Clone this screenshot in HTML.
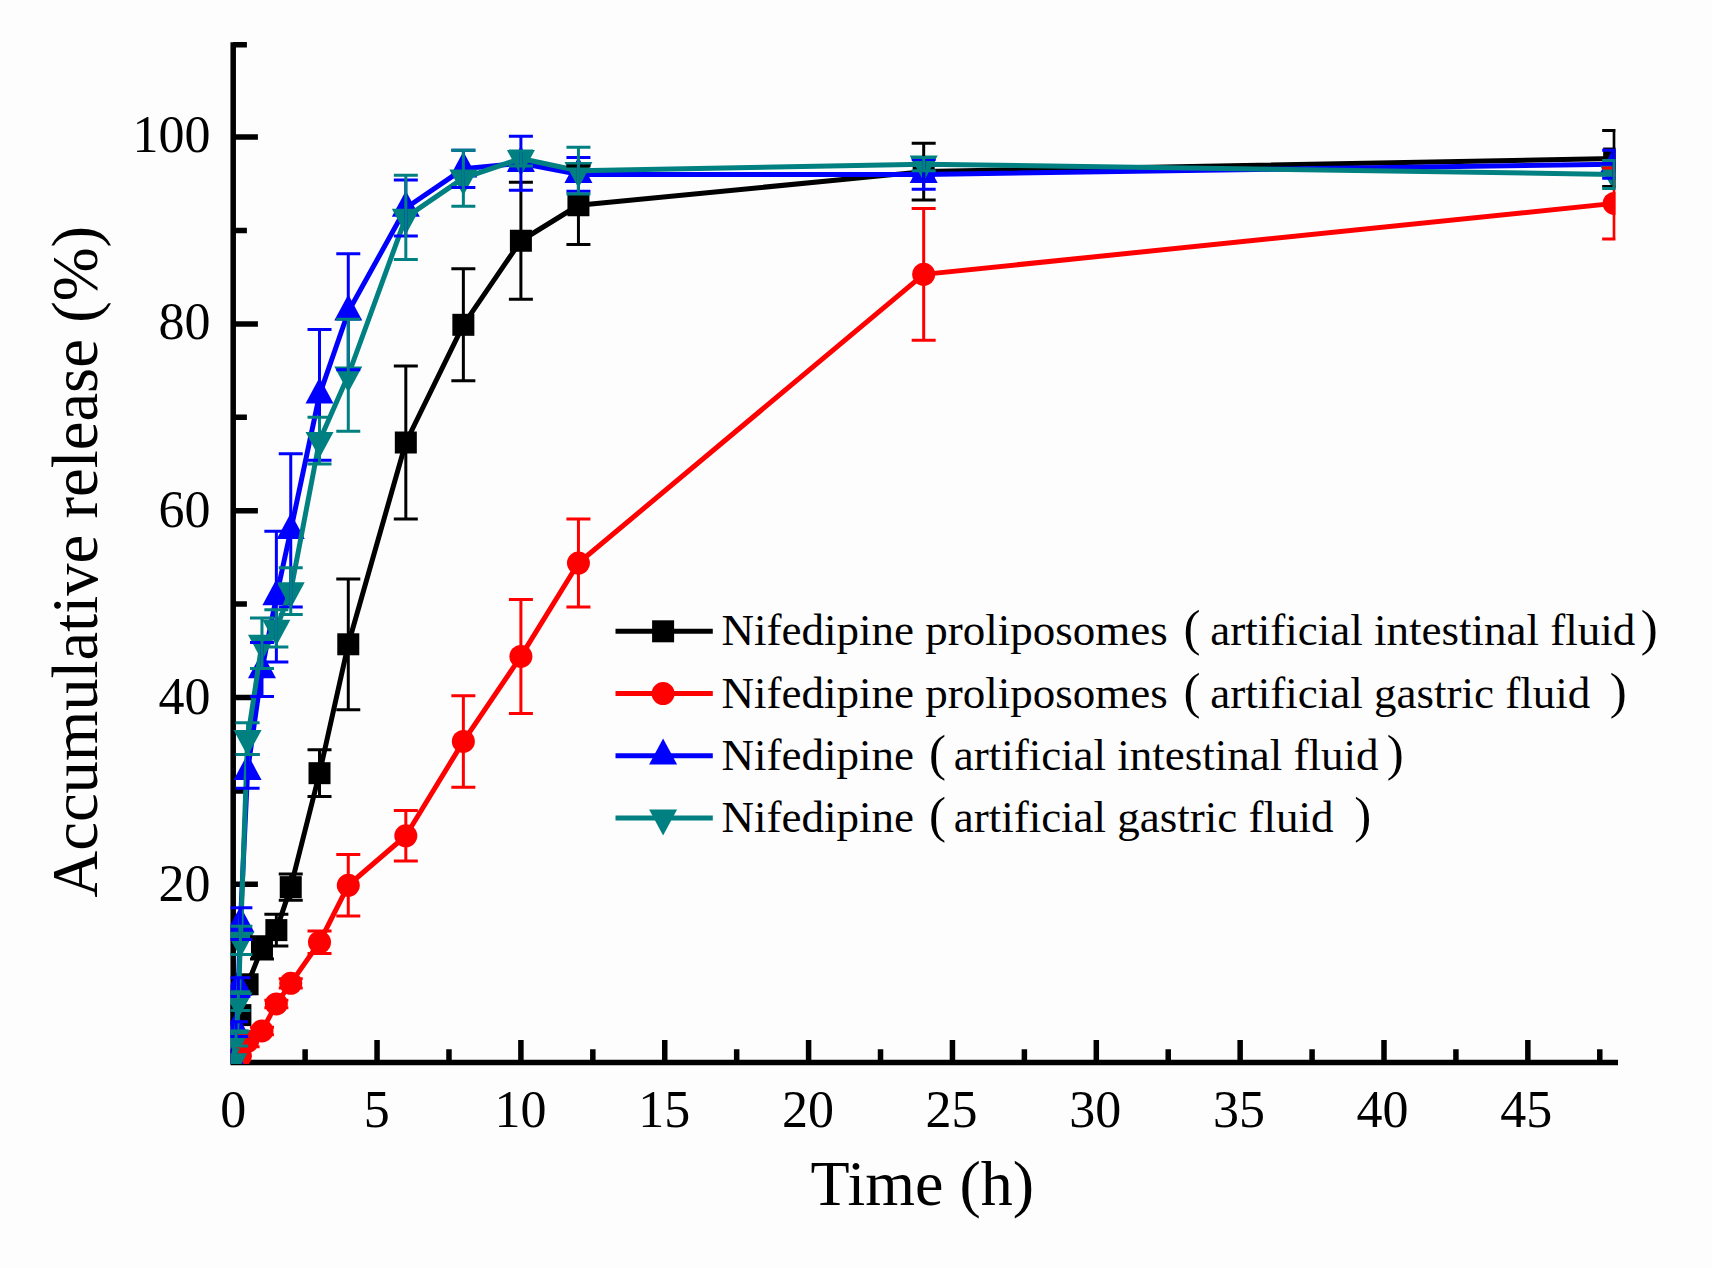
<!DOCTYPE html>
<html><head><meta charset="utf-8"><title>Accumulative release</title>
<style>
html,body{margin:0;padding:0;background:#fff;}
body{width:1712px;height:1268px;overflow:hidden;}
svg{display:block;}
text{font-family:"Liberation Serif","Times New Roman",serif;fill:#000;}
</style></head><body>
<svg width="1712" height="1268" viewBox="0 0 1712 1268">
<defs>
<clipPath id="pc"><rect x="230.5" y="30" width="1385" height="1034"/></clipPath>
</defs>
<rect width="1712" height="1268" fill="#fefdfe"/>

<path d="M233.2 42.2V1065.15M230.45 1062.4H1618M233.2 977.75H246.9M233.2 884.34H257.9M233.2 790.93H246.9M233.2 697.52H257.9M233.2 604.11H246.9M233.2 510.7H257.9M233.2 417.29H246.9M233.2 323.88H257.9M233.2 230.47H246.9M233.2 137.06H257.9M233.2 44.7H246.9M305.12 1049.3V1062.4M377.05 1040V1062.4M448.98 1049.3V1062.4M520.9 1040V1062.4M592.83 1049.3V1062.4M664.75 1040V1062.4M736.67 1049.3V1062.4M808.6 1040V1062.4M880.53 1049.3V1062.4M952.45 1040V1062.4M1024.38 1049.3V1062.4M1096.3 1040V1062.4M1168.22 1049.3V1062.4M1240.15 1040V1062.4M1312.08 1049.3V1062.4M1384 1040V1062.4M1455.92 1049.3V1062.4M1527.85 1040V1062.4M1599.78 1049.3V1062.4" stroke="#000" stroke-width="5.5" fill="none"/>
<text x="210.6" y="900.86" text-anchor="end" font-size="52">20</text>
<text x="210.6" y="713.68" text-anchor="end" font-size="52">40</text>
<text x="210.6" y="526.5" text-anchor="end" font-size="52">60</text>
<text x="210.6" y="339.32" text-anchor="end" font-size="52">80</text>
<text x="210.6" y="152.14" text-anchor="end" font-size="52">100</text>
<text x="233.2" y="1126.5" text-anchor="middle" font-size="52">0</text>
<text x="376.87" y="1126.5" text-anchor="middle" font-size="52">5</text>
<text x="520.55" y="1126.5" text-anchor="middle" font-size="52">10</text>
<text x="664.23" y="1126.5" text-anchor="middle" font-size="52">15</text>
<text x="807.9" y="1126.5" text-anchor="middle" font-size="52">20</text>
<text x="951.58" y="1126.5" text-anchor="middle" font-size="52">25</text>
<text x="1095.25" y="1126.5" text-anchor="middle" font-size="52">30</text>
<text x="1238.92" y="1126.5" text-anchor="middle" font-size="52">35</text>
<text x="1382.6" y="1126.5" text-anchor="middle" font-size="52">40</text>
<text x="1526.28" y="1126.5" text-anchor="middle" font-size="52">45</text>
<text x="922.3" y="1205.3" text-anchor="middle" font-size="64">Time (h)</text>
<text transform="translate(96.8 561.7) rotate(-90)" x="0" y="0" text-anchor="middle" font-size="64.7">Accumulative release (%)</text>
<g clip-path="url(#pc)">
<g>
<polyline points="233.2,1059.95 240.39,1015.11 247.58,984.29 261.97,947.86 276.36,930.11 290.74,887.14 319.51,773.18 348.28,644.28 405.82,442.51 463.36,324.81 520.9,240.75 578.44,205.25 923.68,171.62 1614.16,158.54" stroke="#000000" stroke-width="5" fill="none" stroke-linejoin="round"/>
<rect x="222.2" y="1048.95" width="22" height="22" fill="#000000"/>
<rect x="229.39" y="1004.11" width="22" height="22" fill="#000000"/>
<rect x="236.58" y="973.29" width="22" height="22" fill="#000000"/>
<rect x="250.97" y="936.86" width="22" height="22" fill="#000000"/>
<rect x="265.36" y="919.11" width="22" height="22" fill="#000000"/>
<rect x="279.74" y="876.14" width="22" height="22" fill="#000000"/>
<rect x="308.51" y="762.18" width="22" height="22" fill="#000000"/>
<rect x="337.28" y="633.28" width="22" height="22" fill="#000000"/>
<rect x="394.82" y="431.51" width="22" height="22" fill="#000000"/>
<rect x="452.36" y="313.81" width="22" height="22" fill="#000000"/>
<rect x="509.9" y="229.75" width="22" height="22" fill="#000000"/>
<rect x="567.44" y="194.25" width="22" height="22" fill="#000000"/>
<rect x="912.68" y="160.62" width="22" height="22" fill="#000000"/>
<rect x="1603.16" y="147.54" width="22" height="22" fill="#000000"/>
</g>
<g>
<polyline points="233.2,1065.56 240.39,1056.21 247.58,1041.27 261.97,1030.99 276.36,1003.9 290.74,983.35 319.51,942.25 348.28,885.27 405.82,835.77 463.36,741.42 520.9,656.42 578.44,563.01 923.68,274.37 1614.16,203.38" stroke="#ff0000" stroke-width="5" fill="none" stroke-linejoin="round"/>
<circle cx="233.2" cy="1065.56" r="11.5" fill="#ff0000"/>
<circle cx="240.39" cy="1056.21" r="11.5" fill="#ff0000"/>
<circle cx="247.58" cy="1041.27" r="11.5" fill="#ff0000"/>
<circle cx="261.97" cy="1030.99" r="11.5" fill="#ff0000"/>
<circle cx="276.36" cy="1003.9" r="11.5" fill="#ff0000"/>
<circle cx="290.74" cy="983.35" r="11.5" fill="#ff0000"/>
<circle cx="319.51" cy="942.25" r="11.5" fill="#ff0000"/>
<circle cx="348.28" cy="885.27" r="11.5" fill="#ff0000"/>
<circle cx="405.82" cy="835.77" r="11.5" fill="#ff0000"/>
<circle cx="463.36" cy="741.42" r="11.5" fill="#ff0000"/>
<circle cx="520.9" cy="656.42" r="11.5" fill="#ff0000"/>
<circle cx="578.44" cy="563.01" r="11.5" fill="#ff0000"/>
<circle cx="923.68" cy="274.37" r="11.5" fill="#ff0000"/>
<circle cx="1614.16" cy="203.38" r="11.5" fill="#ff0000"/>
</g>
<g>
<polyline points="233.2,1061.82 236.08,1029.13 238.38,987.09 240.39,923.57 247.58,771.31 261.97,669.5 276.36,596.64 290.74,530.32 319.51,394.87 348.28,311.74 405.82,208.05 463.36,168.82 520.9,163.21 578.44,174.42 923.68,174.42 1614.16,164.15" stroke="#0000ff" stroke-width="5" fill="none" stroke-linejoin="round"/>
<polygon points="233.2,1044.49 247.2,1070.49 219.2,1070.49" fill="#0000ff"/>
<polygon points="236.08,1011.79 250.08,1037.79 222.08,1037.79" fill="#0000ff"/>
<polygon points="238.38,969.76 252.38,995.76 224.38,995.76" fill="#0000ff"/>
<polygon points="240.39,906.24 254.39,932.24 226.39,932.24" fill="#0000ff"/>
<polygon points="247.58,753.98 261.58,779.98 233.58,779.98" fill="#0000ff"/>
<polygon points="261.97,652.16 275.97,678.16 247.97,678.16" fill="#0000ff"/>
<polygon points="276.36,579.3 290.36,605.3 262.36,605.3" fill="#0000ff"/>
<polygon points="290.74,512.98 304.74,538.98 276.74,538.98" fill="#0000ff"/>
<polygon points="319.51,377.54 333.51,403.54 305.51,403.54" fill="#0000ff"/>
<polygon points="348.28,294.4 362.28,320.4 334.28,320.4" fill="#0000ff"/>
<polygon points="405.82,190.72 419.82,216.72 391.82,216.72" fill="#0000ff"/>
<polygon points="463.36,151.49 477.36,177.49 449.36,177.49" fill="#0000ff"/>
<polygon points="520.9,145.88 534.9,171.88 506.9,171.88" fill="#0000ff"/>
<polygon points="578.44,157.09 592.44,183.09 564.44,183.09" fill="#0000ff"/>
<polygon points="923.68,157.09 937.68,183.09 909.68,183.09" fill="#0000ff"/>
<polygon points="1614.16,146.82 1628.16,172.82 1600.16,172.82" fill="#0000ff"/>
</g>
<g>
<polyline points="233.2,1061.82 236.08,1038.47 238.38,1001.1 240.39,940.39 247.58,738.62 261.97,643.34 276.36,628.4 290.74,591.03 319.51,440.64 348.28,375.26 405.82,217.39 463.36,178.16 520.9,158.54 578.44,170.69 923.68,164.15 1614.16,174.42" stroke="#008080" stroke-width="5" fill="none" stroke-linejoin="round"/>
<polygon points="219.2,1053.15 247.2,1053.15 233.2,1079.15" fill="#008080"/>
<polygon points="222.08,1029.8 250.08,1029.8 236.08,1055.8" fill="#008080"/>
<polygon points="224.38,992.44 252.38,992.44 238.38,1018.44" fill="#008080"/>
<polygon points="226.39,931.72 254.39,931.72 240.39,957.72" fill="#008080"/>
<polygon points="233.58,729.95 261.58,729.95 247.58,755.95" fill="#008080"/>
<polygon points="247.97,634.68 275.97,634.68 261.97,660.68" fill="#008080"/>
<polygon points="262.36,619.73 290.36,619.73 276.36,645.73" fill="#008080"/>
<polygon points="276.74,582.37 304.74,582.37 290.74,608.37" fill="#008080"/>
<polygon points="305.51,431.98 333.51,431.98 319.51,457.98" fill="#008080"/>
<polygon points="334.28,366.59 362.28,366.59 348.28,392.59" fill="#008080"/>
<polygon points="391.82,208.73 419.82,208.73 405.82,234.73" fill="#008080"/>
<polygon points="449.36,169.49 477.36,169.49 463.36,195.49" fill="#008080"/>
<polygon points="506.9,149.88 534.9,149.88 520.9,175.88" fill="#008080"/>
<polygon points="564.44,162.02 592.44,162.02 578.44,188.02" fill="#008080"/>
<polygon points="909.68,155.48 937.68,155.48 923.68,181.48" fill="#008080"/>
<polygon points="1600.16,165.76 1628.16,165.76 1614.16,191.76" fill="#008080"/>
</g>
<path d="M261.97 936.65V959.07M249.97 936.65H273.97M249.97 959.07H273.97M276.36 914.23V945.99M264.36 914.23H288.36M264.36 945.99H288.36M290.74 874.06V900.22M278.74 874.06H302.74M278.74 900.22H302.74M319.51 749.83V796.53M307.51 749.83H331.51M307.51 796.53H331.51M348.28 578.89V709.66M336.28 578.89H360.28M336.28 709.66H360.28M405.82 365.91V519.11M393.82 365.91H417.82M393.82 519.11H417.82M463.36 268.77V380.86M451.36 268.77H475.36M451.36 380.86H475.36M520.9 182.36V299.13M508.9 182.36H532.9M508.9 299.13H532.9M578.44 166.02V244.48M566.44 166.02H590.44M566.44 244.48H590.44M923.68 143.13V200.11M911.68 143.13H935.68M911.68 200.11H935.68M1614.16 130.52V186.57M1602.16 130.52H1626.16M1602.16 186.57H1626.16" stroke="#000000" stroke-width="3" fill="none"/>
<path d="M247.58 1035.66V1046.87M235.58 1035.66H259.58M235.58 1046.87H259.58M261.97 1027.26V1034.73M249.97 1027.26H273.97M249.97 1034.73H273.97M276.36 1000.17V1007.64M264.36 1000.17H288.36M264.36 1007.64H288.36M290.74 978.68V988.03M278.74 978.68H302.74M278.74 988.03H302.74M319.51 931.04V953.46M307.51 931.04H331.51M307.51 953.46H331.51M348.28 854.45V916.1M336.28 854.45H360.28M336.28 916.1H360.28M405.82 810.55V860.99M393.82 810.55H417.82M393.82 860.99H417.82M463.36 695.65V787.19M451.36 695.65H475.36M451.36 787.19H475.36M520.9 599.44V713.4M508.9 599.44H532.9M508.9 713.4H532.9M578.44 519.11V606.91M566.44 519.11H590.44M566.44 606.91H590.44M923.68 208.52V340.23M911.68 208.52H935.68M911.68 340.23H935.68M1614.16 167.89V238.88M1602.16 167.89H1626.16M1602.16 238.88H1626.16" stroke="#ff0000" stroke-width="3" fill="none"/>
<path d="M236.08 1021.65V1036.6M224.08 1021.65H248.08M224.08 1036.6H248.08M238.38 977.75V996.43M226.38 977.75H250.38M226.38 996.43H250.38M240.39 907.69V939.45M228.39 907.69H252.39M228.39 939.45H252.39M247.58 754.5V788.13M235.58 754.5H259.58M235.58 788.13H259.58M261.97 642.41V696.59M249.97 642.41H273.97M249.97 696.59H273.97M276.36 531.25V662.02M264.36 531.25H288.36M264.36 662.02H288.36M290.74 453.72V606.91M278.74 453.72H302.74M278.74 606.91H302.74M319.51 329.48V460.26M307.51 329.48H331.51M307.51 460.26H331.51M348.28 253.82V369.65M336.28 253.82H360.28M336.28 369.65H360.28M405.82 180.03V236.07M393.82 180.03H417.82M393.82 236.07H417.82M463.36 150.14V187.5M451.36 150.14H475.36M451.36 187.5H475.36M520.9 136.13V190.3M508.9 136.13H532.9M508.9 190.3H532.9M578.44 157.61V191.24M566.44 157.61H590.44M566.44 191.24H590.44M923.68 159.48V189.37M911.68 159.48H935.68M911.68 189.37H935.68M1614.16 150.14V178.16M1602.16 150.14H1626.16M1602.16 178.16H1626.16" stroke="#0000ff" stroke-width="3" fill="none"/>
<path d="M236.08 1030.99V1045.94M224.08 1030.99H248.08M224.08 1045.94H248.08M238.38 991.76V1010.44M226.38 991.76H250.38M226.38 1010.44H250.38M240.39 926.37V954.4M228.39 926.37H252.39M228.39 954.4H252.39M247.58 722.74V754.5M235.58 722.74H259.58M235.58 754.5H259.58M261.97 618.12V668.56M249.97 618.12H273.97M249.97 668.56H273.97M276.36 609.71V647.08M264.36 609.71H288.36M264.36 647.08H288.36M290.74 567.68V614.39M278.74 567.68H302.74M278.74 614.39H302.74M319.51 417.29V464M307.51 417.29H331.51M307.51 464H331.51M348.28 319.21V431.3M336.28 319.21H360.28M336.28 431.3H360.28M405.82 175.36V259.43M393.82 175.36H417.82M393.82 259.43H417.82M463.36 150.14V206.18M451.36 150.14H475.36M451.36 206.18H475.36M520.9 151.07V166.02M508.9 151.07H532.9M508.9 166.02H532.9M578.44 147.34V194.04M566.44 147.34H590.44M566.44 194.04H590.44M923.68 157.61V170.69M911.68 157.61H935.68M911.68 170.69H935.68M1614.16 160.41V188.44M1602.16 160.41H1626.16M1602.16 188.44H1626.16" stroke="#008080" stroke-width="3" fill="none"/>
</g>
<path d="M615.5 631.3H712.8" stroke="#000000" stroke-width="5"/>
<rect x="652.1" y="620.3" width="22" height="22" fill="#000000"/>
<text y="645.2" font-size="45"><tspan x="721.5">Nifedipine proliposomes</tspan> <tspan x="1183.4" font-size="51">(</tspan> <tspan x="1210.3">artificial intestinal fluid</tspan> <tspan x="1640.7" font-size="51">)</tspan></text>
<path d="M615.5 693.6H712.8" stroke="#ff0000" stroke-width="5"/>
<circle cx="663.1" cy="693.6" r="11.5" fill="#ff0000"/>
<text y="707.5" font-size="45"><tspan x="721.5">Nifedipine proliposomes</tspan> <tspan x="1183.4" font-size="51">(</tspan> <tspan x="1210.3">artificial gastric fluid</tspan> <tspan x="1609.7" font-size="51">)</tspan></text>
<path d="M615.5 755.8H712.8" stroke="#0000ff" stroke-width="5"/>
<polygon points="663.1,738.47 677.1,764.47 649.1,764.47" fill="#0000ff"/>
<text y="769.7" font-size="45"><tspan x="721.5">Nifedipine</tspan> <tspan x="929.1" font-size="51">(</tspan> <tspan x="953.7">artificial intestinal fluid</tspan> <tspan x="1386.8" font-size="51">)</tspan></text>
<path d="M615.5 818.1H712.8" stroke="#008080" stroke-width="5"/>
<polygon points="649.1,809.43 677.1,809.43 663.1,835.43" fill="#008080"/>
<text y="832" font-size="45"><tspan x="721.5">Nifedipine</tspan> <tspan x="929.1" font-size="51">(</tspan> <tspan x="953.7">artificial gastric fluid</tspan> <tspan x="1354.3" font-size="51">)</tspan></text>
</svg>
</body></html>
